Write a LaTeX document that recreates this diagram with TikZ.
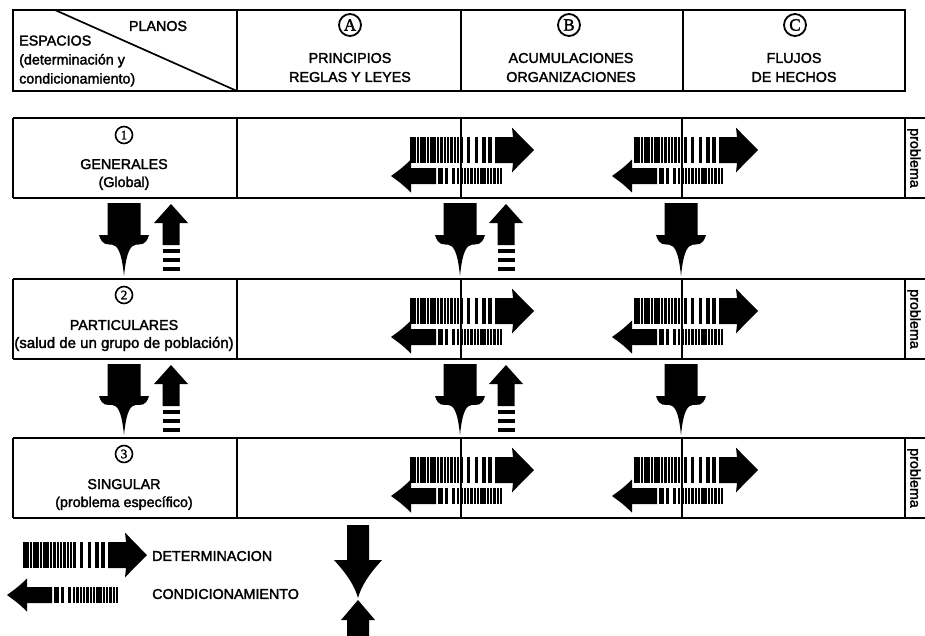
\documentclass[tikz,border=0pt]{standalone}
\usepackage{fontspec}
\setmainfont{Liberation Sans}[FakeBold=2]
\newfontfamily\serifnum{Liberation Serif}[FakeBold=2]
\newcommand\myDet[2]{%
  \begin{scope}[shift={(#1,#2)}]
    \foreach \i in {0,...,15} {\fill (\i*3.35,-13) rectangle ++(2.5,26);}
    \fill (57,-13) rectangle (60,13);
    \fill (65,-13) rectangle (68,13);
    \fill (72,-13) rectangle (76,13);
    \fill (77.5,-13) rectangle (82,13);
    \fill (85,-13) -- (103,-13) -- (102,-22.5) .. controls (112,-12) .. (124,0)
          .. controls (112,12) .. (102,22.5) -- (103,13) -- (85,13) -- cycle;
  \end{scope}}
\newcommand\myCond[2]{%
  \begin{scope}[shift={(#1,#2)}]
    \fill (0,0) .. controls (11,-8) .. (20,-16.5) -- (20,-8) -- (45,-8) -- (45,8)
          -- (20,8) -- (20,16.5) .. controls (11,8) .. (0,0) -- cycle;
    \fill (47,-8) rectangle (52,8);
    \fill (54,-8) rectangle (57,8);
    \fill (61,-8) rectangle (64,8);
    \foreach \i in {0,...,13} {\fill (66+\i*3.3,-8) rectangle ++(2.4,16);}
  \end{scope}}
% x, top, headstart, tip, bodyhalf, headhalf
\newcommand\myDown[6]{%
  \fill ({#1-#5},#2) -- ({#1+#5},#2) -- ({#1+#5},#3) -- ({#1+#6},#3)
    .. controls ({#1+0.72*#6},{#3+0.2*(#4-#3)}) and ({#1+0.2*#6},{#4-0.45*(#4-#3)}) .. (#1,#4)
    .. controls ({#1-0.2*#6},{#4-0.45*(#4-#3)}) and ({#1-0.72*#6},{#3+0.2*(#4-#3)}) .. ({#1-#6},#3)
    -- ({#1-#5},#3) -- cycle;}
% x, tip, headbase, solidend, headhalf, bodyhalf, stripe start
\newcommand\myUp[7]{%
  \fill (#1,#2) -- ({#1+#5},#3) -- ({#1+#6},#3) -- ({#1+#6},#4) -- ({#1-#6},#4)
    -- ({#1-#6},#3) -- ({#1-#5},#3) -- cycle;
  \foreach \s in {0,9,18} {\fill ({#1-#6},{#7+\s}) rectangle ({#1+#6},{#7+\s+3.5});}}
\begin{document}
\begin{tikzpicture}[x=1pt,y=-1pt,
  frame/.style={line width=1.7pt},
  thinline/.style={line width=1.1pt},
  txt/.style={font=\fontsize{14.3}{18}\selectfont, inner sep=0pt, align=center},
  hdr/.style={font=\fontsize{14.3}{19}\selectfont, inner sep=0pt, align=center},
  bigcirc/.style={circle, draw, line width=1.8pt, inner sep=0pt, minimum size=22pt,
    font=\serifnum\fontsize{17}{17}\selectfont},
  smallcirc/.style={circle, draw, line width=1.6pt, inner sep=0pt, minimum size=17pt,
    font=\serifnum\fontsize{13}{13}\selectfont},
  rot/.style={font=\fontsize{14.3}{18}\selectfont, inner sep=0pt, rotate=-90}]
\useasboundingbox (0,0) rectangle (925,635);
\fill[white] (0,0) rectangle (925,635);
% ---------- header ----------
\draw[frame] (13,10) rectangle (905,91);
\draw[frame] (237,10) -- (237,91);
\draw[frame] (461,10) -- (461,91);
\draw[frame] (683,10) -- (683,91);
\draw[frame] (55,10) -- (237,91);
\node[hdr] (planos) at (158,26) {PLANOS};
\node[hdr, anchor=west, align=left] (espacios) at (19,61)
  {ESPACIOS\\(determinación y\\condicionamiento)};
\node[bigcirc] (cA) at (350,25) {A};
\node[hdr] (colA) at (350,67.5) {PRINCIPIOS\\REGLAS Y LEYES};
\node[bigcirc] (cB) at (569,25) {B};
\node[hdr] (colB) at (571,67.5) {ACUMULACIONES\\ORGANIZACIONES};
\node[bigcirc] (cC) at (795,25) {C};
\node[hdr] (colC) at (794,67.5) {FLUJOS\\DE HECHOS};
% ---------- rows ----------
\foreach \T in {118,279,438} {
  \draw[frame] (13,\T) -- (925,\T);
  \draw[frame] (13,\T+80) -- (925,\T+80);
  \draw[frame] (13,\T) -- (13,\T+80);
  \draw[frame] (237,\T) -- (237,\T+80);
  \draw[frame] (905,\T) -- (905,\T+80);
  \draw[thinline] (461,\T) -- (461,\T+80);
  \draw[thinline] (682,\T) -- (682,\T+80);
  \myDet{410}{\T+32}
  \myCond{391}{\T+58}
  \myDet{634}{\T+32}
  \myCond{612}{\T+58}
}
\node[smallcirc] (n1) at (124,135) {1};
\node[txt] (r1) at (124,174.5) {GENERALES\\(Global)};
\node[rot] (p1) at (914,158) {problema};
\node[smallcirc] (n2) at (124,295) {2};
\node[txt] (r2) at (124,335.5) {PARTICULARES\\{\fontsize{15}{18}\selectfont(salud de un grupo de población)}};
\node[rot] (p2) at (914,319) {problema};
\node[smallcirc] (n3) at (124,454) {3};
\node[txt] (r3) at (124,494.5) {SINGULAR\\(problema específico)};
\node[rot] (p3) at (914,478) {problema};
% ---------- vertical arrows ----------
\foreach \B/\N in {198/279,359/438} {
  \myDown{124}{\B+5}{\B+37}{\N-3}{16.5}{25}
  \myDown{460}{\B+5}{\B+37}{\N-3}{16.5}{25}
  \myDown{681}{\B+5}{\B+37}{\N-3}{16.5}{25}
  \myUp{171}{\B+6}{\B+25}{\B+47}{17}{8.5}{\B+51}
  \myUp{506}{\B+6}{\B+25}{\B+47}{17}{8.5}{\B+51}
}
% bottom pair
\myDown{358}{525}{560}{598}{11}{24}
\fill (358,600) -- (375,620) -- (369,620) -- (369,640) -- (347,640) -- (347,620) -- (341,620) -- cycle;
% ---------- legend ----------
\myDet{23}{555}
\myCond{7}{595}
\node[txt, anchor=west] (ldet) at (152,556) {DETERMINACION};
\node[txt, anchor=west] (lcond) at (152,594) {CONDICIONAMIENTO};
\end{tikzpicture}
\end{document}
